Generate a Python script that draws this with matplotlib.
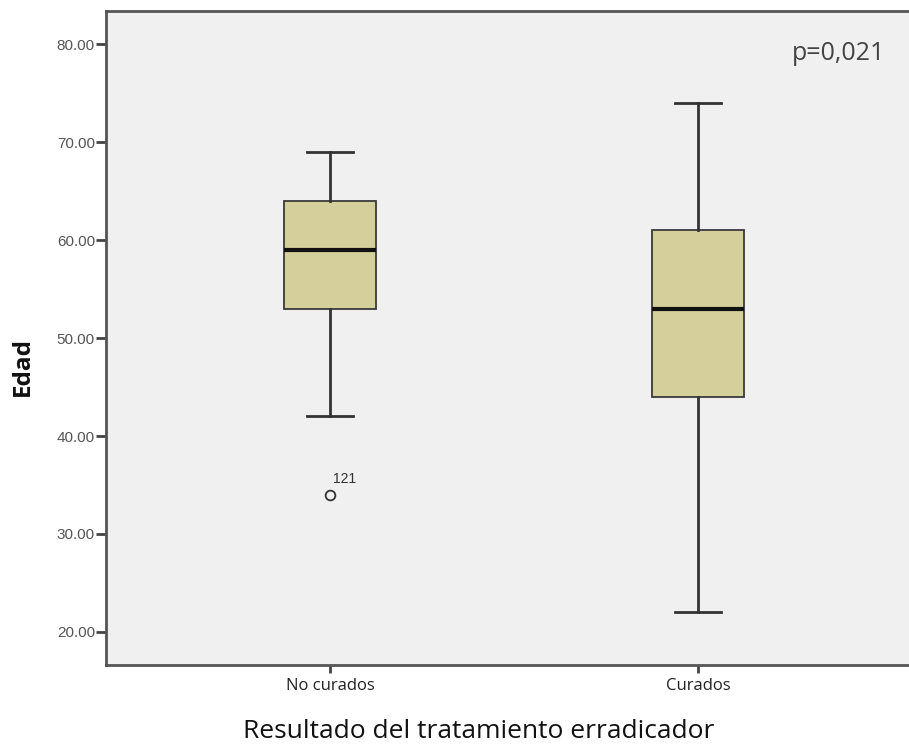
import matplotlib
matplotlib.use("Agg")
import matplotlib.pyplot as plt

# values (SPSS boxplot of age by treatment outcome)
groups = ["No curados", "Curados"]
whislo = [42, 22]
q1 = [53, 44]
med = [59, 53]
q3 = [64, 61]
whishi = [69, 74]
outliers = [[34], []]
outlier_ids = [["121"], []]
yticks = [20, 30, 40, 50, 60, 70, 80]

stats = []
for i, g in enumerate(groups):
    stats.append({"label": g, "whislo": whislo[i], "q1": q1[i], "med": med[i],
                  "q3": q3[i], "whishi": whishi[i], "fliers": outliers[i]})

fig = plt.figure(figsize=(9.09, 7.44), dpi=100)
ax = fig.add_axes([0.1166, 0.106, 0.8834, 0.879])
ax.set_facecolor("#f0f0f0")

positions = list(range(len(groups)))
ax.bxp(stats, positions=positions, widths=0.25, patch_artist=True,
       boxprops=dict(facecolor="#d5cf9b", edgecolor="#3a3a3a", linewidth=1.3),
       medianprops=dict(color="#111111", linewidth=3),
       whiskerprops=dict(color="#333333", linewidth=2),
       capprops=dict(color="#333333", linewidth=2),
       capwidths=0.125,
       flierprops=dict(marker="o", markerfacecolor="none", markeredgecolor="#333333",
                       markersize=7, markeredgewidth=1.3))

# case number next to the outlier
for i, ids in enumerate(outlier_ids):
    for val, lab in zip(outliers[i], ids):
        ax.text(positions[i] + 0.008, val + 1.2, lab, fontsize=10, color="#333333",
                family="Liberation Sans", ha="left", va="baseline")

ax.set_xlim(-0.609, 1.573)
ax.set_ylim(16.6, 83.4)
ax.set_yticks(yticks)
ax.set_yticklabels([f"{v:.2f}" for v in yticks], fontsize=11, color="#555555",
                   family="Liberation Sans")
ax.set_xticks(positions)
ax.set_xticklabels(groups, fontsize=12, color="#222222", family="Open Sans")
ax.tick_params(axis="y", length=7, width=2, color="#444444", pad=1)
ax.tick_params(axis="x", length=6, width=2, color="#444444", pad=3)

for side in ["left", "bottom", "top"]:
    ax.spines[side].set_color("#555555")
    ax.spines[side].set_linewidth(2)
ax.spines["right"].set_visible(False)

fig.text(23 / 909, 1 - 366 / 744, "Edad", fontsize=17.5, fontweight="bold",
         family="Open Sans", color="#111111", rotation=90, ha="center", va="center")
fig.text(479 / 909, 1 - 738 / 744, "Resultado del tratamiento erradicador",
         fontsize=19, family="Open Sans", color="#111111", ha="center", va="baseline")

ax.text(0.971, 0.925, "p=0,021", transform=ax.transAxes, fontsize=18,
        family="Open Sans", color="#444444", ha="right", va="baseline")

fig.savefig("out.png", dpi=100)
